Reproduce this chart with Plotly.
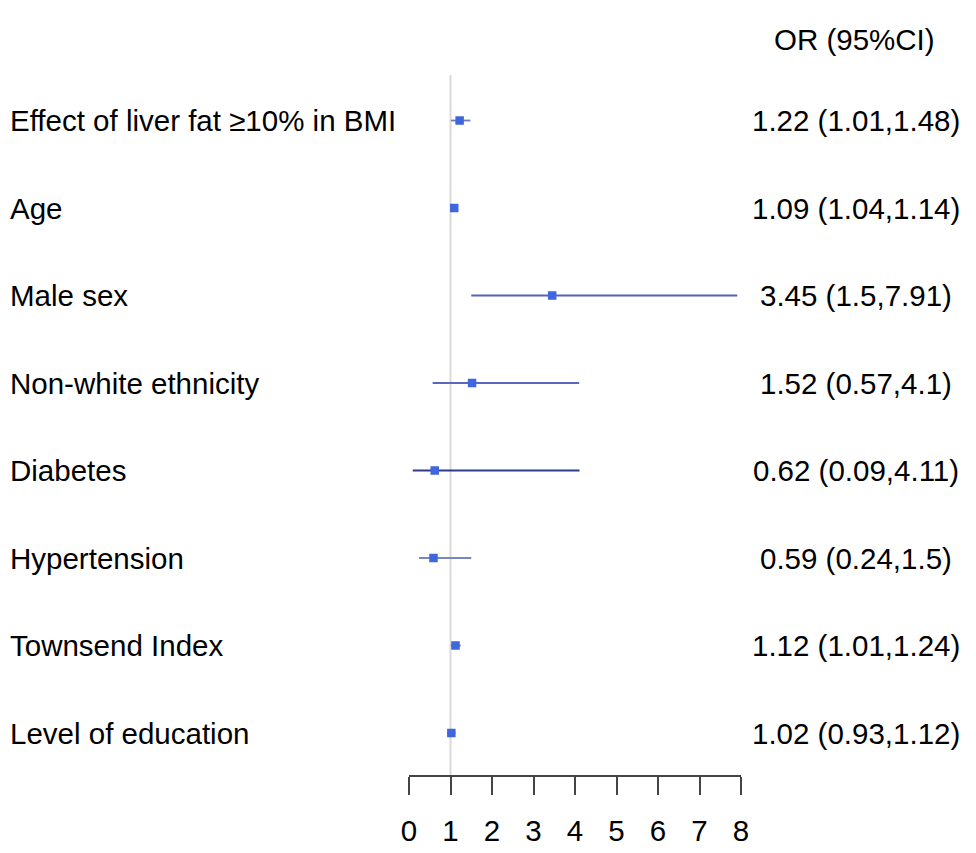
import plotly.graph_objects as go

# ----- data -----
labels = ["Effect of liver fat ≥10% in BMI", "Age", "Male sex", "Non-white ethnicity",
          "Diabetes", "Hypertension", "Townsend Index", "Level of education"]
odds = [1.22, 1.09, 3.45, 1.52, 0.62, 0.59, 1.12, 1.02]
lower = [1.01, 1.04, 1.5, 0.57, 0.09, 0.24, 1.01, 0.93]
upper = [1.48, 1.14, 7.91, 4.1, 4.11, 1.5, 1.24, 1.12]
or_text = ["1.22 (1.01,1.48)", "1.09 (1.04,1.14)", "3.45 (1.5,7.91)", "1.52 (0.57,4.1)",
           "0.62 (0.09,4.11)", "0.59 (0.24,1.5)", "1.12 (1.01,1.24)", "1.02 (0.93,1.12)"]
x_ticks = [0, 1, 2, 3, 4, 5, 6, 7, 8]

# CI line shades (style)
ci_colors = ["#6d79c2", "#4a5bbf", "#5562b6", "#5a67c0",
             "#2e3a8c", "#7a85c8", "#3a48a8", "#4a5bbf"]

rows = list(range(len(labels)))
font = "Liberation Sans, Arial, sans-serif"
fs = 29.5

# page has an 8px body margin, so everything is placed 8px up/left
W, H = 976, 853
L, R, T, B = 401, 243, 67, 86
pw, ph = W - L - R, H - T - B

fig = go.Figure()

# reference line at OR = 1
fig.add_shape(type="line", x0=1, x1=1, y0=-0.52, y1=7.48, xref="x", yref="y",
              line=dict(color="#d9d9d9", width=2), layer="below")

# confidence intervals
for i in rows:
    fig.add_trace(go.Scatter(
        x=[lower[i], upper[i]], y=[i, i], mode="lines",
        line=dict(color=ci_colors[i], width=1.8),
        showlegend=False, hoverinfo="skip"
    ))

# point estimates
fig.add_trace(go.Scatter(
    x=odds, y=rows, mode="markers",
    marker=dict(color="#3f66dd", size=8.5, symbol="square"),
    showlegend=False
))

# left labels
for i, lab in enumerate(labels):
    fig.add_annotation(x=(0 - L) / pw, y=i, xref="paper", yref="y", text=lab,
                       showarrow=False, xanchor="left",
                       font=dict(size=fs, color="black", family=font))

# right OR text
for i, t in enumerate(or_text):
    fig.add_annotation(x=(848 - L) / pw, y=i, xref="paper", yref="y", text=t,
                       showarrow=False, xanchor="center",
                       font=dict(size=fs, color="black", family=font))

fig.add_annotation(x=(846 - L) / pw, y=(H - B - 32) / ph, xref="paper", yref="paper",
                   text="OR (95%CI)", showarrow=False, xanchor="center", yanchor="middle",
                   font=dict(size=fs, color="black", family=font))

fig.update_layout(
    width=W, height=H,
    margin=dict(l=L, r=R, t=T, b=B),
    plot_bgcolor="white", paper_bgcolor="white",
    font=dict(family=font, size=fs, color="black"),
    xaxis=dict(range=[0, 8], tickvals=x_ticks, showgrid=False, zeroline=False,
               showline=True, linecolor="#444444", linewidth=1.5,
               ticks="outside", ticklen=18, tickwidth=1.5, tickcolor="#444444",
               ticklabelstandoff=11, tickfont=dict(size=fs, color="black")),
    yaxis=dict(range=[7.48, -0.52], showgrid=False, zeroline=False, showline=False,
               showticklabels=False, ticks=""),
)

fig.write_html("out.html")
